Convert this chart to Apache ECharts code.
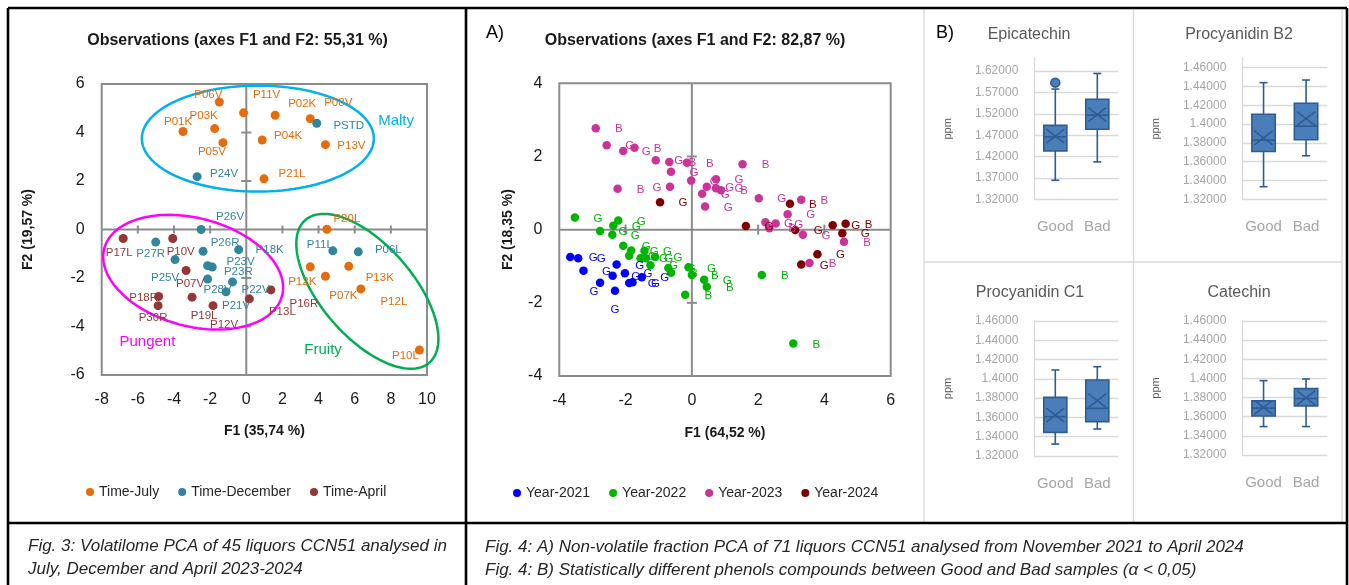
<!DOCTYPE html>
<html>
<head>
<meta charset="utf-8">
<title>PCA and phenols</title>
<script src="https://cdn.jsdelivr.net/npm/echarts@6.0.0/dist/echarts.min.js"></script>
<style>
  html, body { margin: 0; padding: 0; background: #fff; }
  #chart { width: 1349px; height: 585px; }
</style>
</head>
<body>
<div id="chart"></div>
<script>
// ---- Fig. 3 : volatilome PCA, [name, F1, F2] ----
const timeJuly = [
  ['P06V', -1.49, 5.26], ['P11V', -0.15, 4.81], ['P02K', 1.60, 4.71], ['P08V', 3.54, 4.57],
  ['P01K', -3.50, 4.04], ['P03K', -1.75, 4.16], ['P05V', -1.29, 3.58], ['P04K', 0.88, 3.69],
  ['P13V', 4.38, 3.50], ['P21L', 0.98, 2.09], ['P20L', 4.46, 0.01], ['P12K', 3.54, -1.54],
  ['P07K', 4.38, -1.93], ['P13K', 5.67, -1.52], ['P12L', 6.34, -2.45], ['P10L', 9.58, -4.97]
];
const timeDecember = [
  ['PSTD', 3.90, 4.38], ['P24V', -2.72, 2.18], ['P26V', -2.50, 0.00], ['P27R', -5.01, -0.52],
  ['P26R', -2.39, -0.90], ['P18K', -0.42, -0.83], ['P25V', -3.94, -1.24], ['P23V', -2.14, -1.49],
  ['P23R', -1.88, -1.55], ['P28V', -2.14, -2.04], ['P22V', -0.76, -2.16], ['P21V', -1.12, -2.57],
  ['P11L', 4.79, -0.88], ['P06L', 6.20, -0.92]
];
const timeApril = [
  ['P17L', -6.81, -0.37], ['P10V', -4.07, -0.37], ['P07V', -3.33, -1.69], ['P18R', -4.85, -2.76],
  ['P30R', -4.88, -3.14], ['P19L', -3.00, -2.79], ['P12V', -1.84, -3.14], ['P13L', 0.17, -2.86],
  ['P16R', 1.36, -2.49]
];
const fig3XTicks = [-6, -4, -2, 2, 4, 6, 8];
const fig3YTicks = [-4, -2, 2, 4];

// aroma groups drawn as ellipses (centre in F1/F2 units)
const clusterNames = ['Malty', 'Pungent', 'Fruity'];
const clusterCentres = [[0.64, 3.75], [-2.94, -1.76], [6.70, -2.55]];
const clusterTextAt = [[8.29, 4.46], [-5.47, -4.63], [4.25, -4.96]];

// ---- Fig. 4 A : non-volatile PCA, [F1, F2, quality] ----
const year2021 = [
  [-3.67, -0.75, 'G'], [-3.43, -0.78, 'G'], [-3.27, -1.12, 'G'], [-2.27, -0.95, 'G'],
  [-2.39, -1.26, 'G'], [-2.02, -1.19, 'G'], [-2.77, -1.45, 'G'], [-2.32, -1.67, 'G'],
  [-1.89, -1.46, 'G'], [-1.79, -1.44, 'G'], [-1.51, -1.30, 'G']
];
const year2022 = [
  [-3.53, 0.33, 'G'], [-2.22, 0.25, 'G'], [-2.37, 0.11, 'G'], [-2.77, -0.04, 'G'],
  [-2.40, -0.14, 'G'], [-2.07, -0.44, 'G'], [-1.83, -0.57, 'G'], [-1.89, -0.71, 'G'],
  [-1.43, -0.58, 'G'], [-1.55, -0.78, 'G'], [-1.39, -0.78, 'G'], [-1.11, -0.75, 'G'],
  [-1.25, -0.97, 'G'], [-0.71, -1.05, 'G'], [-0.63, -1.18, 'B'], [-0.10, -1.03, 'G'],
  [0.00, -1.24, 'B'], [0.37, -1.37, 'G'], [0.45, -1.56, 'B'], [-0.20, -1.78, 'B'],
  [2.11, -1.24, 'B'], [3.06, -3.11, 'B']
];
const year2023 = [
  [-2.90, 2.77, 'B'], [-2.57, 2.31, 'G'], [-2.07, 2.15, 'G'], [-1.73, 2.24, 'B'],
  [-1.09, 1.90, 'G'], [-0.68, 1.85, 'B'], [-0.63, 1.58, 'G'], [-0.15, 1.83, 'B'],
  [-0.02, 1.34, 'G'], [-2.24, 1.12, 'B'], [-0.66, 1.17, 'G'], [1.53, 1.79, 'B'],
  [0.73, 1.38, 'G'], [0.45, 1.17, 'G'], [0.73, 1.13, 'G'], [0.88, 1.08, 'B'],
  [0.31, 0.98, 'G'], [0.40, 0.63, 'G'], [2.02, 0.86, 'G'], [3.30, 0.82, 'B'],
  [2.89, 0.42, 'G'], [2.22, 0.20, 'G'], [2.53, 0.17, 'G'], [2.34, 0.04, 'B'],
  [3.35, -0.14, 'G'], [4.59, -0.33, 'B'], [3.55, -0.91, 'B']
];
const year2024 = [
  [-0.96, 0.75, 'G'], [2.96, 0.71, 'B'], [1.63, 0.10, 'G'], [3.12, -0.01, 'G'],
  [4.25, 0.12, 'G'], [4.64, 0.16, 'B'], [4.54, -0.10, 'G'], [3.79, -0.67, 'G'],
  [3.30, -0.95, 'G']
];
const fig4XTicks = [-2, 2, 4];
const fig4YTicks = [-2, 2];

// ---- Fig. 4 B : phenols, [min, Q1, median, Q3, max, mean] ----
const boxCategories = ['Good', 'Bad'];
const epicatechinGood = [1.3645, 1.433, 1.466, 1.493, 1.578, 1.468];
const epicatechinBad = [1.4075, 1.484, 1.517, 1.554, 1.6145, 1.518];
const epicatechinOutliers = [[0, 1.593]];
const procyanidinB2Good = [1.3334, 1.3709, 1.383, 1.4105, 1.4441, 1.3854];
const procyanidinB2Bad = [1.3663, 1.3833, 1.3978, 1.4222, 1.4469, 1.4059];
const procyanidinC1Good = [1.3324, 1.3445, 1.3608, 1.3808, 1.4092, 1.3625];
const procyanidinC1Bad = [1.348, 1.3556, 1.3694, 1.3988, 1.4126, 1.3774];
const catechinGood = [1.3497, 1.3608, 1.369, 1.3765, 1.3977, 1.3698];
const catechinBad = [1.3497, 1.3713, 1.379, 1.3893, 1.3994, 1.3796];
const epicatechinTicks = ['1.32000', '1.37000', '1.42000', '1.47000', '1.52000', '1.57000', '1.62000'];
const procyanidinTicks = ['1.32000', '1.34000', '1.36000', '1.38000', '1.4000', '1.42000', '1.44000', '1.46000'];

// ---------------- styling ----------------
const FONT = 'Liberation Sans';
const axisGray = '#8c8c8c';
const boxFill = '#4a7ebb', boxLine = '#2e5c90';
const gridGray = '#d9d9d9', tickGray = '#a6a6a6';

// label shifts (px) for the volatilome plot
const fig3LabelShift = {
  P06V: [-11, -7], P11V: [23, -18], P02K: [27, -11], P08V: [28, -16], PSTD: [32, 3],
  P01K: [-5, -10], P03K: [-11, -13], P05V: [-11, 9], P04K: [26, -4], P13V: [26, 1],
  P24V: [27, -3], P21L: [28, -5],
  P26V: [29, -13], P17L: [-4, 14], P27R: [-5, 12], P10V: [8, 13], P26R: [22, -8],
  P18K: [31, 0], P23V: [33, -4], P25V: [-10, 18], P23R: [26, 5], P07V: [4, 13],
  P28V: [10, 11], P22V: [23, 8], P21V: [10, 14], P18R: [-15, 1], P30R: [-5, 12],
  P19L: [12, 19], P12V: [11, 19], P13L: [33, 13], P16R: [33, 14],
  P11L: [-13, -6], P06L: [30, -2], P20L: [20, -10], P12K: [-8, 15], P07K: [18, 20],
  P13K: [31, 11], P12L: [33, 13], P10L: [-14, 6]
};
const fig4LabelShift = {
  'Year-2021': { 6: [-6, 9], 7: [0, 19] },
  'Year-2023': { 10: [-13, 1] }
};
const clusterLook = [
  { rx: 116, ry: 53, tilt: 0, color: '#00b0f0' },
  { rx: 92, ry: 54, tilt: 15, color: '#ff00ff' },
  { rx: 94.5, ry: 46, tilt: 49, color: '#00b050' }
];

function fig3Series(name, rows, color) {
  return {
    name: name, type: 'scatter', xAxisIndex: 0, yAxisIndex: 0,
    symbolSize: 9, itemStyle: { color: color, opacity: 1 }, z: 3,
    label: { show: true, position: 'inside', formatter: '{b}', color: color, fontSize: 11.5, fontFamily: FONT },
    data: rows.map(r => ({ name: r[0], value: [r[1], r[2]], label: { offset: fig3LabelShift[r[0]] || [24, 0] } }))
  };
}

function fig4Series(name, rows, color) {
  const shift = fig4LabelShift[name] || {};
  return {
    name: name, type: 'scatter', xAxisIndex: 1, yAxisIndex: 1,
    symbolSize: 8.5, itemStyle: { color: color, opacity: 1 }, z: 3,
    label: { show: true, position: 'inside', formatter: '{b}', color: color, fontSize: 11.5, fontFamily: FONT },
    data: rows.map((r, i) => ({ name: r[2], value: [r[0], r[1]], label: { offset: shift[i] || [23, 1] } }))
  };
}

// zero lines with crossing ticks, like the Excel PCA plots
function zeroCross(xTicks, yTicks, xr, yr, xLen, yLen) {
  return function (params, api) {
    const st = { stroke: axisGray, lineWidth: 2 };
    const l = api.coord([xr[0], 0]), r = api.coord([xr[1], 0]);
    const t = api.coord([0, yr[1]]), b = api.coord([0, yr[0]]);
    const kids = [
      { type: 'line', shape: { x1: l[0], y1: l[1], x2: r[0], y2: r[1] }, style: st },
      { type: 'line', shape: { x1: t[0], y1: t[1], x2: b[0], y2: b[1] }, style: st }
    ];
    xTicks.forEach(v => {
      const p = api.coord([v, 0]);
      kids.push({ type: 'line', shape: { x1: p[0], y1: p[1] - xLen, x2: p[0], y2: p[1] + xLen }, style: st });
    });
    yTicks.forEach(v => {
      const p = api.coord([0, v]);
      kids.push({ type: 'line', shape: { x1: p[0] - yLen, y1: p[1], x2: p[0] + yLen, y2: p[1] }, style: st });
    });
    return { type: 'group', children: kids };
  };
}

function renderCluster(params, api) {
  const i = params.dataIndex;
  const look = clusterLook[i];
  const c = api.coord([api.value(0), api.value(1)]);
  const th = look.tilt * Math.PI / 180;
  const pts = [];
  for (let k = 0; k <= 120; k++) {
    const a = 2 * Math.PI * k / 120;
    const ex = look.rx * Math.cos(a), ey = look.ry * Math.sin(a);
    pts.push([c[0] + ex * Math.cos(th) - ey * Math.sin(th), c[1] + ex * Math.sin(th) + ey * Math.cos(th)]);
  }
  const tp = api.coord(clusterTextAt[i]);
  return {
    type: 'group', children: [
      { type: 'polyline', shape: { points: pts }, style: { stroke: look.color, lineWidth: 2.5, fill: null } },
      { type: 'text', x: tp[0], y: tp[1], style: { text: clusterNames[i], fill: look.color, font: '15px "' + FONT + '"', align: 'center', verticalAlign: 'middle', textAlign: 'center', textVerticalAlign: 'middle' } }
    ]
  };
}

function renderBox(params, api) {
  const cat = api.value(0);
  const p = [1, 2, 3, 4, 5, 6].map(d => api.coord([cat, api.value(d)]));
  const cx = p[0][0];
  const half = api.size([1, 0])[0] * 0.275;
  const st = { stroke: boxLine, lineWidth: 1.6 };
  const line = (x1, y1, x2, y2) => ({ type: 'line', shape: { x1, y1, x2, y2 }, style: st });
  const hw = half * 0.78, hh = 7, my = p[5][1];
  return {
    type: 'group', children: [
      line(cx, p[0][1], cx, p[1][1]),
      line(cx, p[3][1], cx, p[4][1]),
      line(cx - 4, p[0][1], cx + 4, p[0][1]),
      line(cx - 4, p[4][1], cx + 4, p[4][1]),
      { type: 'rect', shape: { x: cx - half, y: p[3][1], width: 2 * half, height: p[1][1] - p[3][1] }, style: { fill: boxFill, stroke: boxLine, lineWidth: 1.6 } },
      line(cx - half, p[2][1], cx + half, p[2][1]),
      line(cx - hw, my - hh, cx + hw, my + hh),
      line(cx - hw, my + hh, cx + hw, my - hh)
    ]
  };
}

function tickPicker(labels) {
  return function (v) {
    const hit = labels.find(s => Math.abs(parseFloat(s) - v) < 1e-6);
    return hit || '';
  };
}

// box panels: [grid index, good, bad, ticks, max, interval]
const boxPanels = [
  [2, epicatechinGood, epicatechinBad, epicatechinTicks, 1.65, 0.05],
  [3, procyanidinB2Good, procyanidinB2Bad, procyanidinTicks, 1.47, 0.02],
  [4, procyanidinC1Good, procyanidinC1Bad, procyanidinTicks, 1.46, 0.02],
  [5, catechinGood, catechinBad, procyanidinTicks, 1.46, 0.02]
];

const pcaLabel = { fontSize: 16, color: '#1a1a1a', fontFamily: FONT, margin: 17 };
const pcaName = { fontWeight: 'bold', fontSize: 14, color: '#1a1a1a', fontFamily: FONT };
const hidden = { axisLine: { show: false, onZero: false }, axisTick: { show: false }, splitLine: { show: false } };

const xAxes = [
  Object.assign({ gridIndex: 0, type: 'value', min: -8, max: 10, interval: 2, axisLabel: pcaLabel,
    name: 'F1 (35,74 %)', nameLocation: 'middle', nameGap: 49, nameTextStyle: pcaName }, hidden),
  Object.assign({ gridIndex: 1, type: 'value', min: -4, max: 6, interval: 2, axisLabel: pcaLabel,
    name: 'F1 (64,52 %)', nameLocation: 'middle', nameGap: 50, nameTextStyle: pcaName }, hidden)
];
const yAxes = [
  Object.assign({ gridIndex: 0, type: 'value', min: -6, max: 6, interval: 2, axisLabel: pcaLabel,
    name: 'F2 (19,57 %)', nameLocation: 'middle', nameGap: 67, nameTextStyle: pcaName }, hidden),
  Object.assign({ gridIndex: 1, type: 'value', min: -4, max: 4, interval: 2, axisLabel: pcaLabel,
    name: 'F2 (18,35 %)', nameLocation: 'middle', nameGap: 44, nameTextStyle: pcaName }, hidden)
];
boxPanels.forEach(bp => {
  xAxes.push({
    gridIndex: bp[0], type: 'category', data: boxCategories,
    axisLine: { show: false }, axisTick: { show: false },
    axisLabel: { interval: 0, hideOverlap: false, color: tickGray, fontSize: 15, margin: 20, fontFamily: FONT }
  });
  yAxes.push({
    gridIndex: bp[0], type: 'value', min: 1.32, max: bp[4], interval: bp[5],
    axisLine: { show: true, onZero: false, lineStyle: { color: gridGray, width: 1.3 } },
    axisTick: { show: false },
    splitLine: { show: true, showMaxLine: bp[4] === 1.46, lineStyle: { color: gridGray, width: 1.3 } },
    axisLabel: { formatter: tickPicker(bp[3]), showMaxLabel: bp[4] === 1.46, color: tickGray, fontSize: 12, margin: 16, fontFamily: FONT },
    name: 'ppm', nameLocation: 'middle', nameGap: 81,
    nameTextStyle: { color: '#595959', fontSize: 11, fontFamily: FONT }
  });
});

const series = [
  { type: 'custom', xAxisIndex: 0, yAxisIndex: 0, silent: true, z: 1, data: [[0, 0]],
    renderItem: zeroCross(fig3XTicks, fig3YTicks, [-8, 10], [-6, 6], 4, 5) },
  { type: 'custom', xAxisIndex: 1, yAxisIndex: 1, silent: true, z: 1, data: [[0, 0]],
    renderItem: zeroCross(fig4XTicks, fig4YTicks, [-4, 6], [-4, 4], 5, 5) },
  { type: 'custom', xAxisIndex: 0, yAxisIndex: 0, silent: true, z: 2, data: clusterCentres,
    renderItem: renderCluster },
  fig3Series('Time-July', timeJuly, '#e46c0a'),
  fig3Series('Time-December', timeDecember, '#31859c'),
  fig3Series('Time-April', timeApril, '#953735'),
  fig4Series('Year-2021', year2021, '#0000ff'),
  fig4Series('Year-2022', year2022, '#00b400'),
  fig4Series('Year-2023', year2023, '#cc3399'),
  fig4Series('Year-2024', year2024, '#800000')
];
boxPanels.forEach(bp => {
  series.push({
    type: 'custom', xAxisIndex: bp[0], yAxisIndex: bp[0], silent: true,
    encode: { x: 0, y: [1, 2, 3, 4, 5, 6] },
    data: [[0].concat(bp[1]), [1].concat(bp[2])],
    renderItem: renderBox
  });
});
series.push({
  type: 'scatter', xAxisIndex: 2, yAxisIndex: 2, symbolSize: 9, silent: true, z: 4,
  itemStyle: { color: boxFill, borderColor: boxLine, borderWidth: 1.5, opacity: 1 },
  data: epicatechinOutliers
});

function txt(x, y, text, font, fill, align) {
  return { type: 'text', x: x, y: y, silent: true,
    style: { text: text, font: font, fill: fill || '#1a1a1a', align: align || 'center', verticalAlign: 'middle',
      textAlign: align || 'center', textVerticalAlign: 'middle' } };
}
function rule(x1, y1, x2, y2, color, w) {
  return { type: 'line', silent: true, shape: { x1, y1, x2, y2 }, style: { stroke: color, lineWidth: w } };
}
const F = '"' + FONT + '"';

const graphics = [
  // panel separators
  rule(924, 10, 924, 522, gridGray, 1.3),
  rule(1133.5, 10, 1133.5, 522, gridGray, 1.3),
  rule(1342, 10, 1342, 522, gridGray, 1.3),
  rule(924, 262, 1342, 262, gridGray, 1.3),
  // outer frame
  rule(8, 8, 1347, 8, '#000', 2.6),
  rule(8, 8, 8, 585, '#000', 2.6),
  rule(1347, 8, 1347, 585, '#000', 2.6),
  rule(466, 8, 466, 585, '#000', 2.6),
  rule(8, 523, 1347, 523, '#000', 2.6),
  // titles
  txt(237.5, 41, 'Observations (axes F1 and F2: 55,31 %)', 'bold 16px ' + F),
  txt(695, 41, 'Observations (axes F1 and F2: 82,87 %)', 'bold 16px ' + F),
  txt(486, 33, 'A)', '18px ' + F, '#000', 'left'),
  txt(936, 33, 'B)', '18px ' + F, '#000', 'left'),
  txt(1029, 35, 'Epicatechin', '16px ' + F, '#595959'),
  txt(1239, 35, 'Procyanidin B2', '16px ' + F, '#595959'),
  txt(1030, 293, 'Procyanidin C1', '16px ' + F, '#595959'),
  txt(1239, 293, 'Catechin', '16px ' + F, '#595959'),
  // captions
  txt(28, 546, 'Fig. 3: Volatilome PCA of 45 liquors CCN51 analysed in', 'italic 17px ' + F, '#262626', 'left'),
  txt(28, 569, 'July, December and April 2023-2024', 'italic 17px ' + F, '#262626', 'left'),
  txt(485, 547, 'Fig. 4: A) Non-volatile fraction PCA of 71 liquors CCN51 analysed from November 2021 to April 2024', 'italic 17px ' + F, '#262626', 'left'),
  txt(485, 570, 'Fig. 4: B) Statistically different phenols compounds between Good and Bad samples (\u03b1 < 0,05)', 'italic 17px ' + F, '#262626', 'left')
];

const legendBase = {
  icon: 'circle', itemWidth: 8, itemHeight: 8, itemGap: 19, selectedMode: false,
  textStyle: { fontSize: 14, color: '#262626', fontFamily: FONT }
};

const chart = echarts.init(document.getElementById('chart'), null, { renderer: 'canvas' });
chart.setOption({
  animation: false,
  backgroundColor: '#fff',
  textStyle: { fontFamily: FONT },
  grid: [
    { left: 101.7, top: 84, width: 325.3, height: 291, show: true, borderColor: axisGray, borderWidth: 2, outerBoundsMode: 'none' },
    { left: 559.3, top: 83.3, width: 331.4, height: 292.7, show: true, borderColor: axisGray, borderWidth: 2, outerBoundsMode: 'none' },
    { left: 1034.3, top: 58.3, width: 84, height: 141, outerBoundsMode: 'none' },
    { left: 1242.3, top: 58.3, width: 85, height: 141, outerBoundsMode: 'none' },
    { left: 1034.3, top: 321, width: 84, height: 135, outerBoundsMode: 'none' },
    { left: 1242.3, top: 321, width: 85, height: 134, outerBoundsMode: 'none' }
  ],
  xAxis: xAxes,
  yAxis: yAxes,
  legend: [
    Object.assign({ data: ['Time-July', 'Time-December', 'Time-April'], left: 81, top: 480 }, legendBase),
    Object.assign({ data: ['Year-2021', 'Year-2022', 'Year-2023', 'Year-2024'], left: 508, top: 481 }, legendBase)
  ],
  graphic: { elements: graphics },
  series: series
});
</script>
</body>
</html>
